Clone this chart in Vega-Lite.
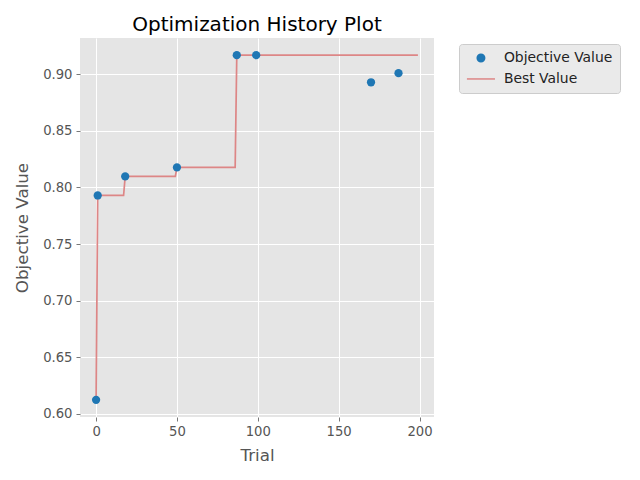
{
  "$schema": "https://vega.github.io/schema/vega-lite/v6.json",
  "width": 354,
  "height": 379,
  "autosize": {"type": "none"},
  "padding": {"left": 80, "top": 38, "right": 206, "bottom": 63},
  "background": "white",
  "title": {"text": "Optimization History Plot", "fontSize": 20, "font": "DejaVu Sans", "fontWeight": "normal", "color": "black", "anchor": "middle", "baseline": "alphabetic", "offset": 7, "dy": 20},
  "config": {
    "view": {"fill": "#E5E5E5", "stroke": null},
    "font": "DejaVu Sans",
    "axis": {
      "domain": false,
      "grid": true,
      "gridColor": "white",
      "gridWidth": 1,
      "tickColor": "#555555",
      "tickSize": 4,
      "tickWidth": 0.8,
      "labelColor": "#555555",
      "labelFont": "DejaVu Sans",
      "labelFontSize": 13.2,
      "labelPadding": 4,
      "titleColor": "#555555",
      "titleFont": "DejaVu Sans",
      "titleFontSize": 16.7,
      "titleFontWeight": "normal"
    }
  },
  "datasets": {
    "trials": [
      {"trial": 0, "value": 0.6124, "series": "Objective Value"},
      {"trial": 1, "value": 0.7929, "series": "Objective Value"},
      {"trial": 18, "value": 0.8097, "series": "Objective Value"},
      {"trial": 50, "value": 0.8177, "series": "Objective Value"},
      {"trial": 87, "value": 0.9168, "series": "Objective Value"},
      {"trial": 99, "value": 0.9168, "series": "Objective Value"},
      {"trial": 170, "value": 0.8929, "series": "Objective Value"},
      {"trial": 187, "value": 0.9009, "series": "Objective Value"}
    ],
    "best": [
      {"trial": 0, "value": 0.6124, "series": "Best Value"},
      {"trial": 1, "value": 0.7929, "series": "Best Value"},
      {"trial": 17, "value": 0.7929, "series": "Best Value"},
      {"trial": 18, "value": 0.8097, "series": "Best Value"},
      {"trial": 49, "value": 0.8097, "series": "Best Value"},
      {"trial": 50, "value": 0.8177, "series": "Best Value"},
      {"trial": 86, "value": 0.8177, "series": "Best Value"},
      {"trial": 87, "value": 0.9168, "series": "Best Value"},
      {"trial": 199, "value": 0.9168, "series": "Best Value"}
    ]
  },
  "encoding": {
    "x": {"field": "trial", "type": "quantitative", "title": "Trial",
      "scale": {"domain": [-9.95, 208.95], "nice": false, "zero": false},
      "axis": {"values": [0, 50, 100, 150, 200], "titlePadding": 10}},
    "y": {"field": "value", "type": "quantitative", "title": "Objective Value",
      "scale": {"domain": [0.5972, 0.9320], "nice": false, "zero": false},
      "axis": {"values": [0.6, 0.65, 0.7, 0.75, 0.8, 0.85, 0.9], "format": ".2f", "titlePadding": 11}},
    "color": {"field": "series", "type": "nominal",
      "scale": {"domain": ["Objective Value", "Best Value"], "range": ["#1f77b4", "#dd8686"]},
      "legend": {
        "title": null,
        "orient": "none",
        "legendX": 379,
        "legendY": 6,
        "padding": 7,
        "rowPadding": 6,
        "fillColor": "#EAEAEA",
        "strokeColor": "#CCCCCC",
        "cornerRadius": 3,
        "symbolSize": 56,
        "symbolOffset": 8,
        "labelOffset": 16,
        "symbolType": {"expr": "datum.value === 'Best Value' ? 'M-3.75,0H3.75' : 'circle'"},
        "symbolOpacity": 1,
        "symbolStrokeWidth": 1.5,
        "labelFontSize": 13.9,
        "labelFont": "DejaVu Sans",
        "labelColor": "#222222",
        "labelLimit": 300
      }
    }
  },
  "layer": [
    {"data": {"name": "best"}, "mark": {"type": "line", "strokeWidth": 1.7, "opacity": 1}},
    {"data": {"name": "trials"}, "mark": {"type": "point", "filled": true, "size": 68, "opacity": 1, "shape": "circle"}}
  ]
}
